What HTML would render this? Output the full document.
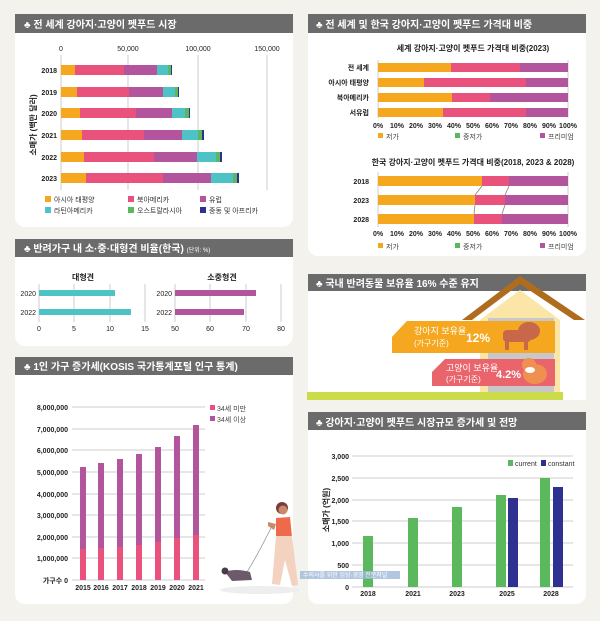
<!DOCTYPE html>
<html><head><meta charset="utf-8"><style>
html,body{margin:0;padding:0;background:#f4f2ec;}
svg{display:block;font-family:"Liberation Sans","Noto Sans CJK KR",sans-serif;}
</style></head><body>
<svg width="600" height="621" viewBox="0 0 600 621" xmlns="http://www.w3.org/2000/svg">
<rect width="600" height="621" fill="#f4f2ec"/>
<!-- panels -->
<rect x="15" y="14" width="278" height="213" rx="10" fill="#fff"/>
<rect x="308" y="14" width="278" height="242" rx="10" fill="#fff"/>
<rect x="15" y="239" width="278" height="107" rx="10" fill="#fff"/>
<rect x="15" y="357" width="278" height="247" rx="10" fill="#fff"/>
<rect x="308" y="274" width="278" height="126" rx="0" fill="#fff"/>
<rect x="308" y="412" width="278" height="192" rx="10" fill="#fff"/>
<!-- headers -->
<g fill="#6b6b6b">
<rect x="15" y="14" width="278" height="19"/>
<rect x="308" y="14" width="278" height="19"/>
<rect x="15" y="239" width="278" height="18"/>
<rect x="15" y="357" width="278" height="18"/>
<rect x="308" y="274" width="278" height="17"/>
<rect x="308" y="412" width="278" height="18"/>
</g>
<g fill="#fff" font-size="10" font-weight="bold">
<text x="24" y="28">♣ 전 세계 강아지·고양이 펫푸드 시장</text>
<text x="316" y="28">♣ 전 세계 및 한국 강아지·고양이 펫푸드 가격대 비중</text>
<text x="24" y="252">♣ 반려가구 내 소·중·대형견 비율(한국) <tspan font-size="6" font-weight="normal">(단위: %)</tspan></text>
<text x="24" y="370">♣ 1인 가구 증가세(KOSIS 국가통계포털 인구 통계)</text>
<text x="316" y="287">♣ 국내 반려동물 보유율 16% 수준 유지</text>
<text x="316" y="426">♣ 강아지·고양이 펫푸드 시장규모 증가세 및 전망</text>
</g>

<!-- Panel 1 -->
<g stroke="#ccc" stroke-width="1">
<line x1="61" y1="55" x2="61" y2="190"/><line x1="128" y1="55" x2="128" y2="190"/>
<line x1="198" y1="55" x2="198" y2="190"/><line x1="267" y1="55" x2="267" y2="190"/>
</g>
<g font-size="7" fill="#222" text-anchor="middle">
<text x="61" y="51">0</text><text x="128" y="51">50,000</text><text x="198" y="51">100,000</text><text x="267" y="51">150,000</text>
</g>
<g font-size="7" fill="#222" text-anchor="end" font-weight="bold">
<text x="57" y="73">2018</text><text x="57" y="95">2019</text><text x="57" y="116">2020</text><text x="57" y="138">2021</text><text x="57" y="160">2022</text><text x="57" y="181">2023</text>
</g>
<text transform="translate(36,125) rotate(-90)" font-size="8" font-weight="bold" text-anchor="middle" fill="#222">소매가 (백만 달러)</text>
<g id="p1">
<!-- rows: y, ends -->
<rect x="61" y="65" width="14" height="10" fill="#f5a81f"/><rect x="75" y="65" width="49" height="10" fill="#e9527c"/><rect x="124" y="65" width="33" height="10" fill="#b3559d"/><rect x="157" y="65" width="11" height="10" fill="#4dc3c8"/><rect x="168" y="65" width="3" height="10" fill="#5cb85c"/><rect x="171" y="65" width="1" height="10" fill="#2e3192"/>
<rect x="61" y="87" width="16" height="10" fill="#f5a81f"/><rect x="77" y="87" width="52" height="10" fill="#e9527c"/><rect x="129" y="87" width="34" height="10" fill="#b3559d"/><rect x="163" y="87" width="12" height="10" fill="#4dc3c8"/><rect x="175" y="87" width="3" height="10" fill="#5cb85c"/><rect x="178" y="87" width="1" height="10" fill="#2e3192"/>
<rect x="61" y="108" width="19" height="10" fill="#f5a81f"/><rect x="80" y="108" width="56" height="10" fill="#e9527c"/><rect x="136" y="108" width="36" height="10" fill="#b3559d"/><rect x="172" y="108" width="13" height="10" fill="#4dc3c8"/><rect x="185" y="108" width="4" height="10" fill="#5cb85c"/><rect x="189" y="108" width="1" height="10" fill="#2e3192"/>
<rect x="61" y="130" width="21" height="10" fill="#f5a81f"/><rect x="82" y="130" width="62" height="10" fill="#e9527c"/><rect x="144" y="130" width="38" height="10" fill="#b3559d"/><rect x="182" y="130" width="16" height="10" fill="#4dc3c8"/><rect x="198" y="130" width="4" height="10" fill="#5cb85c"/><rect x="202" y="130" width="2" height="10" fill="#2e3192"/>
<rect x="61" y="152" width="23" height="10" fill="#f5a81f"/><rect x="84" y="152" width="70" height="10" fill="#e9527c"/><rect x="154" y="152" width="43" height="10" fill="#b3559d"/><rect x="197" y="152" width="19" height="10" fill="#4dc3c8"/><rect x="216" y="152" width="4" height="10" fill="#5cb85c"/><rect x="220" y="152" width="2" height="10" fill="#2e3192"/>
<rect x="61" y="173" width="25" height="10" fill="#f5a81f"/><rect x="86" y="173" width="77" height="10" fill="#e9527c"/><rect x="163" y="173" width="48" height="10" fill="#b3559d"/><rect x="211" y="173" width="22" height="10" fill="#4dc3c8"/><rect x="233" y="173" width="4" height="10" fill="#5cb85c"/><rect x="237" y="173" width="2" height="10" fill="#2e3192"/>
</g>
<g font-size="7" fill="#333">
<rect x="45" y="196" width="6" height="6" fill="#f5a81f"/><text x="54" y="202">아시아 태평양</text>
<rect x="128" y="196" width="6" height="6" fill="#e9527c"/><text x="137" y="202">북아메리카</text>
<rect x="200" y="196" width="6" height="6" fill="#b3559d"/><text x="209" y="202">유럽</text>
<rect x="45" y="207" width="6" height="6" fill="#4dc3c8"/><text x="54" y="213">라틴아메리카</text>
<rect x="128" y="207" width="6" height="6" fill="#5cb85c"/><text x="137" y="213">오스트랄라시아</text>
<rect x="200" y="207" width="6" height="6" fill="#2e3192"/><text x="209" y="213">중동 및 아프리카</text>
</g>

<!-- Panel 2 -->
<text x="473" y="51" font-size="8" font-weight="bold" text-anchor="middle" fill="#222">세계 강아지·고양이 펫푸드 가격대 비중(2023)</text>
<g stroke="#ccc"><line x1="378" y1="60" x2="378" y2="118"/><line x1="568" y1="60" x2="568" y2="118"/><line x1="378" y1="172" x2="378" y2="227"/><line x1="568" y1="172" x2="568" y2="227"/></g>
<g font-size="7" fill="#222" text-anchor="end" font-weight="bold">
<text x="369" y="70">전 세계</text><text x="369" y="85">아시아 태평양</text><text x="369" y="100">북아메리카</text><text x="369" y="115">서유럽</text>
<text x="369" y="184">2018</text><text x="369" y="203">2023</text><text x="369" y="222">2028</text>
</g>
<g>
<rect x="378" y="63" width="73" height="9" fill="#f5a81f"/><rect x="451" y="63" width="69" height="9" fill="#e9527c"/><rect x="520" y="63" width="48" height="9" fill="#b3559d"/>
<rect x="378" y="78" width="46" height="9" fill="#f5a81f"/><rect x="424" y="78" width="102" height="9" fill="#e9527c"/><rect x="526" y="78" width="42" height="9" fill="#b3559d"/>
<rect x="378" y="93" width="74" height="9" fill="#f5a81f"/><rect x="452" y="93" width="38" height="9" fill="#e9527c"/><rect x="490" y="93" width="78" height="9" fill="#b3559d"/>
<rect x="378" y="108" width="65" height="9" fill="#f5a81f"/><rect x="443" y="108" width="83" height="9" fill="#e9527c"/><rect x="526" y="108" width="42" height="9" fill="#b3559d"/>
<rect x="378" y="176" width="104" height="10" fill="#f5a81f"/><rect x="482" y="176" width="27" height="10" fill="#e9527c"/><rect x="509" y="176" width="59" height="10" fill="#b3559d"/>
<rect x="378" y="195" width="97" height="10" fill="#f5a81f"/><rect x="475" y="195" width="30" height="10" fill="#e9527c"/><rect x="505" y="195" width="63" height="10" fill="#b3559d"/>
<rect x="378" y="214" width="96" height="10" fill="#f5a81f"/><rect x="474" y="214" width="28" height="10" fill="#e9527c"/><rect x="502" y="214" width="66" height="10" fill="#b3559d"/>
</g>
<g stroke="#777" stroke-width="0.7" fill="none">
<line x1="482" y1="186" x2="475" y2="195"/><line x1="475" y1="205" x2="474" y2="214"/>
<line x1="509" y1="186" x2="505" y2="195"/><line x1="505" y1="205" x2="502" y2="214"/>
</g>
<g font-size="7" fill="#222" text-anchor="middle" font-weight="bold">
<text x="378" y="128">0%</text><text x="397" y="128">10%</text><text x="416" y="128">20%</text><text x="435" y="128">30%</text><text x="454" y="128">40%</text><text x="473" y="128">50%</text><text x="492" y="128">60%</text><text x="511" y="128">70%</text><text x="530" y="128">80%</text><text x="549" y="128">90%</text><text x="568" y="128">100%</text>
<text x="378" y="236">0%</text><text x="397" y="236">10%</text><text x="416" y="236">20%</text><text x="435" y="236">30%</text><text x="454" y="236">40%</text><text x="473" y="236">50%</text><text x="492" y="236">60%</text><text x="511" y="236">70%</text><text x="530" y="236">80%</text><text x="549" y="236">90%</text><text x="568" y="236">100%</text>
</g>
<g font-size="7" fill="#444">
<rect x="378" y="133" width="5" height="5" fill="#f5a81f"/><text x="386" y="139">저가</text>
<rect x="455" y="133" width="5" height="5" fill="#5cb85c"/><text x="463" y="139">중저가</text>
<rect x="540" y="133" width="5" height="5" fill="#b3559d"/><text x="548" y="139">프리미엄</text>
<rect x="378" y="243" width="5" height="5" fill="#f5a81f"/><text x="386" y="249">저가</text>
<rect x="455" y="243" width="5" height="5" fill="#5cb85c"/><text x="463" y="249">중저가</text>
<rect x="540" y="243" width="5" height="5" fill="#b3559d"/><text x="548" y="249">프리미엄</text>
</g>
<text x="473" y="165" font-size="8" font-weight="bold" text-anchor="middle" fill="#222">한국 강아지·고양이 펫푸드 가격대 비중(2018, 2023 &amp; 2028)</text>

<!-- Panel 3 -->
<text x="83" y="280" font-size="8" font-weight="bold" text-anchor="middle" fill="#222">대형견</text>
<text x="222" y="280" font-size="8" font-weight="bold" text-anchor="middle" fill="#222">소중형견</text>
<g stroke="#ccc"><line x1="39" y1="284" x2="39" y2="322"/><line x1="74" y1="284" x2="74" y2="322"/><line x1="110" y1="284" x2="110" y2="322"/><line x1="145" y1="284" x2="145" y2="322"/>
<line x1="175" y1="284" x2="175" y2="322"/><line x1="210" y1="284" x2="210" y2="322"/><line x1="246" y1="284" x2="246" y2="322"/><line x1="281" y1="284" x2="281" y2="322"/></g>
<rect x="39" y="290" width="76" height="6" fill="#4dc3c8"/><rect x="39" y="309" width="92" height="6" fill="#4dc3c8"/>
<rect x="175" y="290" width="81" height="6" fill="#b3559d"/><rect x="175" y="309" width="69" height="6" fill="#b3559d"/>
<g font-size="7" fill="#222" text-anchor="end"><text x="36" y="296">2020</text><text x="36" y="315">2022</text><text x="172" y="296">2020</text><text x="172" y="315">2022</text></g>
<g font-size="7" fill="#222" text-anchor="middle"><text x="39" y="331">0</text><text x="74" y="331">5</text><text x="110" y="331">10</text><text x="145" y="331">15</text><text x="175" y="331">50</text><text x="210" y="331">60</text><text x="246" y="331">70</text><text x="281" y="331">80</text></g>

<!-- Panel 4 -->
<g stroke="#ccc">
<line x1="72" y1="407" x2="205" y2="407"/><line x1="72" y1="429" x2="205" y2="429"/><line x1="72" y1="450" x2="205" y2="450"/><line x1="72" y1="472" x2="205" y2="472"/><line x1="72" y1="494" x2="205" y2="494"/><line x1="72" y1="515" x2="205" y2="515"/><line x1="72" y1="537" x2="205" y2="537"/><line x1="72" y1="558" x2="205" y2="558"/><line x1="72" y1="580" x2="205" y2="580"/>
</g>
<g font-size="7" fill="#222" text-anchor="end" font-weight="bold">
<text x="68" y="410">8,000,000</text><text x="68" y="432">7,000,000</text><text x="68" y="453">6,000,000</text><text x="68" y="475">5,000,000</text><text x="68" y="497">4,000,000</text><text x="68" y="518">3,000,000</text><text x="68" y="540">2,000,000</text><text x="68" y="561">1,000,000</text><text x="68" y="583">가구수 0</text>
</g>
<g>
<rect x="80" y="467" width="6" height="82" fill="#b3559d"/><rect x="80" y="549" width="6" height="31" fill="#e9527c"/>
<rect x="98" y="463" width="6" height="85" fill="#b3559d"/><rect x="98" y="548" width="6" height="32" fill="#e9527c"/>
<rect x="117" y="459" width="6" height="88" fill="#b3559d"/><rect x="117" y="547" width="6" height="33" fill="#e9527c"/>
<rect x="136" y="454" width="6" height="91" fill="#b3559d"/><rect x="136" y="545" width="6" height="35" fill="#e9527c"/>
<rect x="155" y="447" width="6" height="95" fill="#b3559d"/><rect x="155" y="542" width="6" height="38" fill="#e9527c"/>
<rect x="174" y="436" width="6" height="102" fill="#b3559d"/><rect x="174" y="538" width="6" height="42" fill="#e9527c"/>
<rect x="193" y="425" width="6" height="110" fill="#b3559d"/><rect x="193" y="535" width="6" height="45" fill="#e9527c"/>
</g>
<g font-size="7" fill="#222" text-anchor="middle" font-weight="bold">
<text x="83" y="590">2015</text><text x="101" y="590">2016</text><text x="120" y="590">2017</text><text x="139" y="590">2018</text><text x="158" y="590">2019</text><text x="177" y="590">2020</text><text x="196" y="590">2021</text>
</g>
<g font-size="7" fill="#444">
<rect x="210" y="405" width="5" height="5" fill="#e9527c"/><text x="217" y="411">34세 미만</text>
<rect x="210" y="416" width="5" height="5" fill="#b3559d"/><text x="217" y="422">34세 이상</text>
</g>
<!-- woman & dog -->
<ellipse cx="260" cy="590" rx="40" ry="4" fill="#eeeeee"/>
<circle cx="282" cy="508" r="6" fill="#7a3b3b"/><circle cx="283" cy="510" r="4.5" fill="#c98a6a"/>
<path d="M276 518 L290 517 L292 537 L276 537 Z" fill="#ee6a4a"/>
<path d="M276 536 L292 536 L298 585 L292 586 L285 560 L280 585 L272 584 Z" fill="#f3d3bf"/>
<path d="M268 522 L276 524 L274 530 L268 526 Z" fill="#c98a6a"/>
<path d="M271 528 Q255 560 245 575" stroke="#888" stroke-width="0.7" fill="none"/>
<path d="M225 572 Q235 568 250 572 L252 580 L232 581 Z" fill="#6a5a6a"/><circle cx="225" cy="571" r="3.5" fill="#4a3a4a"/>

<!-- Panel 5 -->
<path d="M462 320 L520 276 L585 320 L574 320 L520 284 L472 320 Z" fill="#b06c1e"/>
<path d="M480 320 L520 290 L560 320 L560 392 L480 392 Z" fill="#fbe6a7"/>
<rect x="488" y="318" width="66" height="74" fill="#c8c8cc"/>
<rect x="307" y="392" width="256" height="8" fill="#cbdb4a"/>
<path d="M407 321 L555 321 L555 353 L392 353 L392 337 Z" fill="#f5a81f"/>
<path d="M392 337 L407 321 L407 353 Z" fill="#f5a81f"/>
<path d="M445 359 L555 359 L555 386 L432 386 L432 372 Z" fill="#e9646b"/>
<g fill="#fff">
<text x="414" y="334" font-size="9">강아지 보유율</text><text x="414" y="346" font-size="8">(가구기준)</text>
<text x="466" y="342" font-size="12" font-weight="bold">12%</text>
<text x="446" y="371" font-size="9">고양이 보유율</text><text x="446" y="382" font-size="8">(가구기준)</text>
<text x="496" y="378" font-size="11" font-weight="bold">4.2%</text>
</g>
<ellipse cx="529" cy="331" rx="11" ry="9" fill="#c8674a"/><rect x="503" y="330" width="28" height="12" rx="4" fill="#c8674a"/>
<rect x="505" y="340" width="4" height="10" fill="#c8674a"/><rect x="524" y="340" width="4" height="10" fill="#c8674a"/>
<ellipse cx="535" cy="374" rx="12" ry="10" fill="#f09050"/><circle cx="529" cy="365" r="7" fill="#f09050"/><ellipse cx="530" cy="370" rx="5" ry="3" fill="#fff"/>

<!-- Panel 6 -->
<g stroke="#ccc">
<line x1="352" y1="456" x2="573" y2="456"/><line x1="352" y1="478" x2="573" y2="478"/><line x1="352" y1="500" x2="573" y2="500"/><line x1="352" y1="521" x2="573" y2="521"/><line x1="352" y1="543" x2="573" y2="543"/><line x1="352" y1="565" x2="573" y2="565"/><line x1="352" y1="587" x2="573" y2="587"/>
</g>
<g font-size="7" fill="#222" text-anchor="end" font-weight="bold">
<text x="349" y="459">3,000</text><text x="349" y="481">2,500</text><text x="349" y="503">2,000</text><text x="349" y="524">1,500</text><text x="349" y="546">1,000</text><text x="349" y="568">500</text><text x="349" y="590">0</text>
</g>
<text transform="translate(329,510) rotate(-90)" font-size="8" font-weight="bold" text-anchor="middle" fill="#222">소매가 (억원)</text>
<g fill="#5cb85c">
<rect x="363" y="536" width="10" height="51"/><rect x="408" y="518" width="10" height="69"/><rect x="452" y="507" width="10" height="80"/><rect x="496" y="495" width="10" height="92"/><rect x="540" y="478" width="10" height="109"/>
</g>
<g fill="#2e3192"><rect x="508" y="498" width="10" height="89"/><rect x="553" y="487" width="10" height="100"/></g>
<g font-size="7" fill="#222" text-anchor="middle" font-weight="bold">
<text x="368" y="596">2018</text><text x="413" y="596">2021</text><text x="457" y="596">2023</text><text x="507" y="596">2025</text><text x="551" y="596">2028</text>
</g>
<g font-size="7" fill="#333">
<rect x="508" y="460" width="5" height="6" fill="#5cb85c"/><text x="515" y="466">current</text>
<rect x="541" y="460" width="5" height="6" fill="#2e3192"/><text x="548" y="466">constant</text>
</g>
<rect x="300" y="571" width="100" height="8" fill="#9fb8d8" opacity="0.8"/>
<text x="303" y="577" font-size="6" fill="#fff">수의사를 위한 임상·경영 전문저널</text>
</svg>
</body></html>
